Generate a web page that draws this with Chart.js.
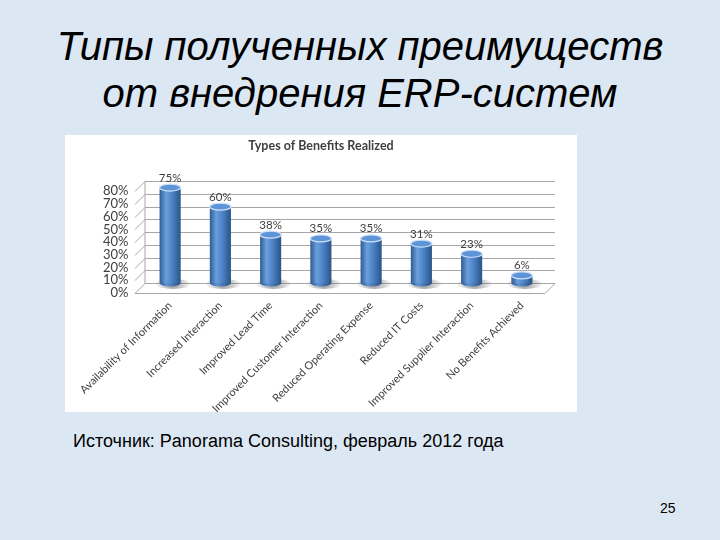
<!DOCTYPE html>
<html>
<head>
<meta charset="utf-8">
<script src="https://cdn.jsdelivr.net/npm/chart.js@4.4.0/dist/chart.umd.min.js"></script>
<style>
html,body{margin:0;padding:0;}
body{width:720px;height:540px;position:relative;overflow:hidden;background:#dce7f4;font-family:"Liberation Sans",Arial,sans-serif;color:#000;}
.t{position:absolute;left:0;width:720px;text-align:center;font-style:italic;font-size:40px;line-height:40px;white-space:nowrap;}
#box{position:absolute;left:65px;top:135px;width:512px;height:277px;background:#fff;}
#src{position:absolute;left:73px;top:432px;font-size:18px;line-height:18px;white-space:nowrap;}
#pg{position:absolute;left:660px;top:501px;font-size:14px;line-height:14px;}
</style>
</head>
<body>
<div class="t" style="top:26px">Типы полученных преимуществ</div>
<div class="t" style="top:73px">от внедрения ERP-систем</div>
<div id="box"><canvas id="c"></canvas></div>
<div id="src">Источник: Panorama Consulting, февраль 2012 года</div>
<div id="pg">25</div>
<script>
const categories = [
  "Availability of Information",
  "Increased Interaction",
  "Improved Lead Time",
  "Improved Customer Interaction",
  "Reduced Operating Expense",
  "Reduced IT Costs",
  "Improved Supplier Interaction",
  "No Benefits Achieved"
];
const benefitShare = [75, 60, 38, 35, 35, 31, 23, 6];
const yTickValues = [0, 10, 20, 30, 40, 50, 60, 70, 80];
const chartTitle = "Types of Benefits Realized";

const DEPTH = 10;

const wallPlugin = {
  id: 'wall',
  beforeDatasetsDraw(chart) {
    const {ctx, chartArea: a, scales: {y}} = chart;
    ctx.save();
    ctx.strokeStyle = '#a6a6a6';
    ctx.lineWidth = 1;
    yTickValues.forEach(v => {
      const py = Math.round(y.getPixelForValue(v)) + 0.5;
      ctx.beginPath();
      ctx.moveTo(a.left - DEPTH, py + DEPTH);
      ctx.lineTo(a.left, py);
      if (v !== 0) ctx.lineTo(a.right + 8, py);
      ctx.stroke();
    });
    const b = Math.round(y.getPixelForValue(0)) + 0.5;
    ctx.beginPath();
    ctx.moveTo(a.left - DEPTH, b + DEPTH);
    ctx.lineTo(a.right - 2, b + DEPTH);
    ctx.lineTo(a.right + 8, b);
    ctx.lineTo(a.left, b);
    ctx.stroke();
    ctx.beginPath();
    ctx.moveTo(a.left, b);
    ctx.lineTo(a.left, Math.round(y.getPixelForValue(80)) + 0.5);
    ctx.stroke();
    const meta = chart.getDatasetMeta(0);
    meta.data.forEach(bar => {
      const p = bar.getProps(['x', 'width', 'base'], true);
      const g = ctx.createRadialGradient(p.x + 3, p.base + 1, 2, p.x + 3, p.base + 1, p.width * 0.85);
      g.addColorStop(0, 'rgba(90,90,90,0.55)');
      g.addColorStop(1, 'rgba(90,90,90,0)');
      ctx.fillStyle = g;
      ctx.beginPath();
      ctx.ellipse(p.x + 3, p.base + 1, p.width * 0.85, 5, 0, 0, Math.PI * 2);
      ctx.fill();
    });
    ctx.restore();
  }
};

const cylPlugin = {
  id: 'cyl',
  afterDatasetsDraw(chart) {
    const ctx = chart.ctx;
    const meta = chart.getDatasetMeta(0);
    meta.data.forEach((bar, i) => {
      const p = bar.getProps(['x', 'y', 'width', 'base'], true);
      const r = p.width / 2;
      ctx.save();
      const gb = ctx.createLinearGradient(p.x - r, 0, p.x + r, 0);
      gb.addColorStop(0, '#2b5a92'); gb.addColorStop(0.35, '#5f93d2'); gb.addColorStop(1, '#264f82');
      ctx.fillStyle = gb;
      ctx.beginPath();
      ctx.ellipse(p.x, p.base, r, 3.5, 0, 0, Math.PI);
      ctx.fill();
      ctx.beginPath();
      ctx.ellipse(p.x, p.y, r, 3.5, 0, 0, Math.PI * 2);
      ctx.fillStyle = '#5d95d8';
      ctx.fill();
      ctx.strokeStyle = '#cfe2f8';
      ctx.lineWidth = 1.2;
      ctx.stroke();
      ctx.fillStyle = '#404040';
      ctx.font = '11.5px Lato';
      ctx.textAlign = 'center';
      ctx.textBaseline = 'bottom';
      ctx.fillText(benefitShare[i] + '%', p.x, p.y - 4);
      ctx.restore();
    });
  }
};

function barFill(c) {
  const ch = c.chart;
  const xs = ch.scales && ch.scales.x;
  if (!xs || !xs.width || c.dataIndex === undefined) return '#4a7ebb';
  const cx = xs.getPixelForValue(c.dataIndex);
  const w = xs.width / categories.length * 0.42;
  const g = ch.ctx.createLinearGradient(cx - w / 2, 0, cx + w / 2, 0);
  g.addColorStop(0, '#2d5c94');
  g.addColorStop(0.3, '#6b9edc');
  g.addColorStop(0.55, '#5188cb');
  g.addColorStop(1, '#285489');
  return g;
}

new Chart(document.getElementById('c'), {
  type: 'bar',
  data: {
    labels: categories,
    datasets: [{
      data: benefitShare,
      backgroundColor: barFill,
      borderWidth: 0,
      barPercentage: 0.42,
      categoryPercentage: 1
    }]
  },
  options: {
    responsive: true,
    maintainAspectRatio: false,
    devicePixelRatio: 1,
    animation: false,
    layout: { padding: 0 },
    plugins: {
      legend: { display: false },
      tooltip: { enabled: false },
      title: {
        display: true,
        text: chartTitle,
        color: '#404040',
        font: { family: 'Lato', size: 12.5, weight: 'bold' },
        padding: { top: 3, bottom: 28.2 }
      }
    },
    scales: {
      x: {
        grid: { display: false },
        border: { display: false },
        ticks: {
          autoSkip: false,
          minRotation: 45,
          maxRotation: 45,
          color: '#404040',
          font: { family: 'Lato', size: 11 },
          padding: 8
        },
        afterFit(s) { s.height = 129; }
      },
      y: {
        min: 0,
        max: 80,
        grid: { display: false, drawTicks: false },
        border: { display: false },
        afterBuildTicks(s) { s.ticks = yTickValues.map(v => ({ value: v })); },
        ticks: {
          autoSkip: false,
          mirror: true,
          crossAlign: 'far',
          color: '#404040',
          font: { family: 'Lato', size: 13 },
          padding: -42,
          labelOffset: 10,
          callback: v => v + '%'
        },
        afterFit(s) { s.width = 80; }
      },
      yRight: {
        position: 'right',
        display: true,
        grid: { display: false, drawTicks: false },
        border: { display: false },
        ticks: { display: false },
        afterFit(s) { s.width = 30; }
      }
    }
  },
  plugins: [wallPlugin, cylPlugin]
});
</script>
</body>
</html>
